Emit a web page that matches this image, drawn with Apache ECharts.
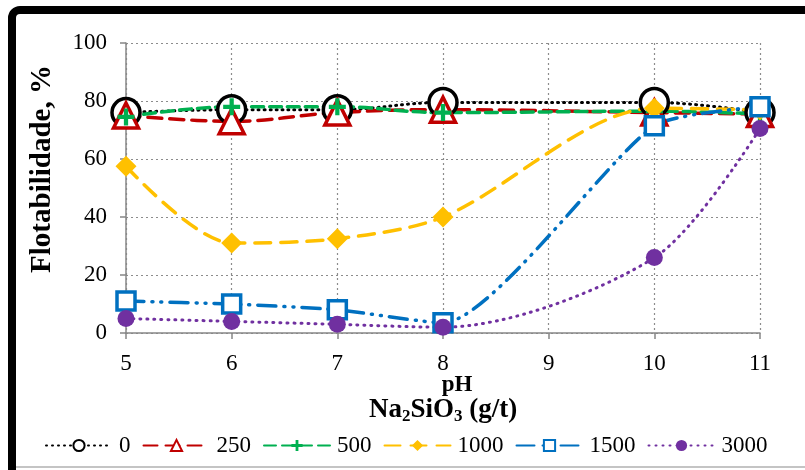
<!DOCTYPE html>
<html>
<head>
<meta charset="utf-8">
<script src="https://cdn.jsdelivr.net/npm/echarts@6/dist/echarts.min.js"></script>
<style>
  html, body { margin: 0; padding: 0; background: #fff; }
  #chart { width: 805px; height: 470px; }
</style>
</head>
<body>
<div id="chart"></div>
<script>
  var phValues = [5, 6, 7, 8, 10, 11];
  var yTicks = [0, 20, 40, 60, 80, 100];
  var dose0 = [76, 77, 77, 79.5, 79.5, 76];
  var dose250 = [75, 73, 76, 77, 76, 75.5];
  var dose500 = [74.5, 78, 78, 76, 76.5, 75.5];
  var dose1000 = [57.5, 31, 32.5, 40, 77.5, 77];
  var dose1500 = [11, 10, 8, 3.5, 71.5, 78];
  var dose3000 = [5, 4, 3, 2, 26, 70.5];

  var serif = 'Liberation Serif';
  var crossPath = 'path://M3,0 H5 V3 H8 V5 H5 V8 H3 V5 H0 V3 H3 Z';

  function pairs(ys) {
    return phValues.map(function(x, i) { return [x, ys[i]]; });
  }

  // hollow markers get a white fill and a thick coloured border
  function makeSeries(name, ys, color, lineType, width, symbol, size, hollow, smooth) {
    return {
      name: name,
      type: 'line',
      data: pairs(ys),
      smooth: smooth,
      symbol: symbol,
      symbolSize: size,
      lineStyle: { color: color, width: width, type: lineType, cap: 'round' },
      itemStyle: hollow
        ? { color: '#fff', borderColor: color, borderWidth: 3.5 }
        : { color: color, borderColor: color, borderWidth: 0 },
      emphasis: { disabled: true }
    };
  }

  var chart = echarts.init(document.getElementById('chart'), null, { renderer: 'canvas' });

  var axisGray = '#878787';
  var gridDots = { color: '#8c8c8c', type: [2, 3], width: 1.2 };

  chart.setOption({
    animation: false,
    textStyle: { fontFamily: serif },
    grid: { left: 126, right: 45, top: 43, bottom: 137 },
    xAxis: {
      type: 'value',
      min: 5,
      max: 11,
      interval: 1,
      axisLine: { lineStyle: { color: axisGray, width: 1.5 } },
      axisTick: { show: true, length: 6, lineStyle: { color: axisGray, width: 1.5 } },
      axisLabel: { fontFamily: serif, fontSize: 23, color: '#000', margin: 19 },
      splitLine: { show: true, lineStyle: gridDots }
    },
    yAxis: {
      type: 'value',
      min: yTicks[0],
      max: yTicks[yTicks.length - 1],
      interval: 20,
      axisLine: { show: true, lineStyle: { color: axisGray, width: 1.5 } },
      axisTick: { show: true, length: 6, lineStyle: { color: axisGray, width: 1.5 } },
      axisLabel: { fontFamily: serif, fontSize: 23, color: '#000', margin: 19 },
      splitLine: { show: true, lineStyle: gridDots }
    },
    legend: {
      left: 40,
      top: 429,
      itemWidth: 66,
      itemHeight: 14,
      itemGap: 12,
      textStyle: { fontFamily: serif, fontSize: 23, color: '#000', padding: [0, 0, 0, 2] },
      data: ['0', '250', '500', '1000', '1500', '3000']
    },
    graphic: [
      {
        type: 'rect',
        shape: { x: 12, y: 10, width: 900, height: 600, r: 8 },
        style: { fill: null, stroke: '#000', lineWidth: 8 },
        silent: true
      },
      {
        type: 'line',
        shape: { x1: 16, y1: 467, x2: 805, y2: 467 },
        style: { stroke: '#b0b0b0', lineWidth: 1.5 },
        silent: true
      },
      {
        type: 'text',
        x: 43,
        y: 169,
        rotation: Math.PI / 2,
        style: {
          text: 'Flotabilidade, %',
          fontFamily: serif, fontSize: 29, fontWeight: 'bold', fill: '#000',
          align: 'center', verticalAlign: 'middle'
        },
        silent: true
      },
      {
        type: 'text',
        x: 457,
        y: 385,
        style: {
          text: 'pH',
          fontFamily: serif, fontSize: 23, fontWeight: 'bold', fill: '#000',
          align: 'center', verticalAlign: 'middle'
        },
        silent: true
      },
      {
        type: 'text',
        x: 443,
        y: 410,
        style: {
          text: '{b|Na}{s|2}{b|SiO}{s|3}{b| (g/t)}',
          align: 'center',
          verticalAlign: 'middle',
          rich: {
            b: { fontFamily: serif, fontSize: 27, fontWeight: 'bold', fill: '#000', lineHeight: 30 },
            s: { fontFamily: serif, fontSize: 17, fontWeight: 'bold', fill: '#000', padding: [13, 0, 0, 0], lineHeight: 30 }
          }
        },
        silent: true
      }
    ],
    series: [
      makeSeries('0', dose0, '#000000', [1, 5], 3, 'circle', 28, true, 0.4),
      makeSeries('250', dose250, '#C00000', [14, 8], 3.5, 'triangle', 25, true, 0.4),
      makeSeries('500', dose500, '#00B050', [12, 6], 3.5, crossPath, 17, false, 0.4),
      makeSeries('1000', dose1000, '#FFC000', [16, 10], 3.5, 'diamond', 21, false, 0.3),
      makeSeries('1500', dose1500, '#0070C0', [18, 8, 1, 8, 1, 8], 3.5, 'rect', 18, true, 0.2),
      makeSeries('3000', dose3000, '#7030A0', [1, 6], 3, 'circle', 17, false, 0.3)
    ]
  });

  window.addEventListener('resize', function() {
    chart && chart.resize();
  });
</script>
</body>
</html>
